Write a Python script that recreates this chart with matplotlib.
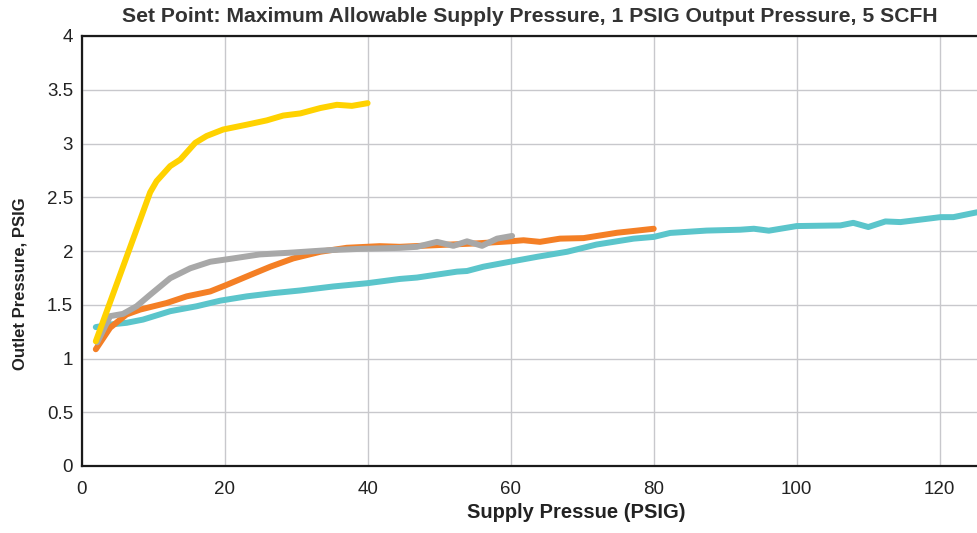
import matplotlib
matplotlib.use("Agg")
import matplotlib.pyplot as plt

# Data
yellow_x = [2.0, 9.6, 10.5, 12.4, 13.8, 15.9, 17.5, 19.8, 23.1, 25.9, 28.2, 30.6, 33.4, 35.7, 37.8, 40.0]
yellow_y = [1.16, 2.546, 2.65, 2.79, 2.85, 3.006, 3.07, 3.13, 3.175, 3.215, 3.26, 3.28, 3.33, 3.36, 3.35, 3.375]

orange_x = [2.0, 4.0, 6.3, 8.2, 11.9, 14.7, 18.0, 20.3, 23.6, 26.4, 29.6, 33.4, 37.1, 41.7, 44.5,
            51.5, 55.0, 59.9, 61.8, 64.1, 66.9, 70.2, 74.9, 77.7, 80.0]
orange_y = [1.086, 1.286, 1.41, 1.455, 1.516, 1.578, 1.624, 1.685, 1.777, 1.854, 1.931, 1.993, 2.03, 2.045, 2.039,
            2.06, 2.07, 2.09, 2.10, 2.085, 2.115, 2.12, 2.17, 2.19, 2.207]

gray_x = [2.2, 4.0, 5.8, 7.7, 9.6, 12.4, 15.2, 18.0, 21.2, 24.9, 29.6, 34.3, 39.0, 44.5,
          46.9, 49.7, 52.0, 53.9, 56.0, 58.1, 60.2]
gray_y = [1.15, 1.394, 1.415, 1.486, 1.593, 1.747, 1.839, 1.90, 1.931, 1.968, 1.986, 2.007, 2.02, 2.029,
          2.039, 2.085, 2.048, 2.09, 2.048, 2.115, 2.14]

teal_x = [2.0, 4.0, 6.3, 8.6, 12.4, 16.1, 19.4, 23.1, 26.8, 30.6, 35.2, 39.9, 44.5, 46.9, 52.5, 53.9,
          56.2, 59.9, 63.7, 67.9, 72.0, 77.2, 80.0, 82.3, 87.4, 92.1, 94.0, 96.1, 100.0, 106.1,
          107.9, 110.0, 112.4, 114.5, 120.1, 121.9, 125.2]
teal_y = [1.292, 1.316, 1.332, 1.362, 1.44, 1.486, 1.538, 1.578, 1.608, 1.633, 1.67, 1.70, 1.74, 1.753, 1.808, 1.814,
          1.854, 1.90, 1.946, 1.993, 2.06, 2.115, 2.131, 2.168, 2.19, 2.198, 2.207, 2.189, 2.232, 2.238,
          2.262, 2.223, 2.275, 2.269, 2.315, 2.315, 2.36]

x_ticks = [0, 20, 40, 60, 80, 100, 120]
y_ticks = [0, 0.5, 1, 1.5, 2, 2.5, 3, 3.5, 4]
y_tick_labels = ["0", "0.5", "1", "1.5", "2", "2.5", "3", "3.5", "4"]

plt.rcParams['font.family'] = ['Liberation Sans', 'DejaVu Sans']

W, H = 977, 533
fig = plt.figure(figsize=(W / 100, H / 100), dpi=100)
ax = fig.add_axes([81.5 / W, 1 - 466 / H, 1 - 81.5 / W, (466 - 36) / H])

lw = 4.3
ax.plot(teal_x, teal_y, color='#5BC5CB', lw=lw, solid_capstyle='round', solid_joinstyle='round', zorder=3)
ax.plot(orange_x, orange_y, color='#F47F25', lw=lw, solid_capstyle='round', solid_joinstyle='round', zorder=4)
ax.plot(gray_x, gray_y, color='#A8A8A8', lw=lw, solid_capstyle='round', solid_joinstyle='round', zorder=5)
ax.plot(yellow_x, yellow_y, color='#FFD200', lw=lw, solid_capstyle='round', solid_joinstyle='round', zorder=6)

ax.set_xlim(0, 125.2)
ax.set_ylim(0, 4)
ax.set_xticks(x_ticks)
ax.set_yticks(y_ticks)
ax.set_yticklabels(y_tick_labels)
ax.grid(True, color='#C8C8CC', lw=1.0, zorder=0)
ax.set_axisbelow(True)
ax.tick_params(length=0, labelsize=13.5, colors='#222222')
ax.tick_params(axis='x', pad=11)
ax.tick_params(axis='y', pad=6)
for s in ['left', 'bottom', 'top']:
    ax.spines[s].set_color('#1a1a1a')
    ax.spines[s].set_linewidth(1.6)
ax.spines['right'].set_visible(False)
for s in ax.spines.values():
    s.set_clip_on(False)

fig.text(530 / W, 1 - 17 / H, "Set Point: Maximum Allowable Supply Pressure, 1 PSIG Output Pressure, 5 SCFH",
         ha='center', va='center', fontsize=15.2, fontweight='bold', color='#333333')
fig.text(576 / W, 1 - 512 / H, "Supply Pressue (PSIG)", ha='center', va='center',
         fontsize=14.5, fontweight='bold', color='#222222')
fig.text(20 / W, 1 - 284 / H, "Outlet Pressure, PSIG", ha='center', va='center', rotation=90,
         fontsize=12, fontweight='bold', color='#222222')

fig.savefig("out.png", dpi=100)
